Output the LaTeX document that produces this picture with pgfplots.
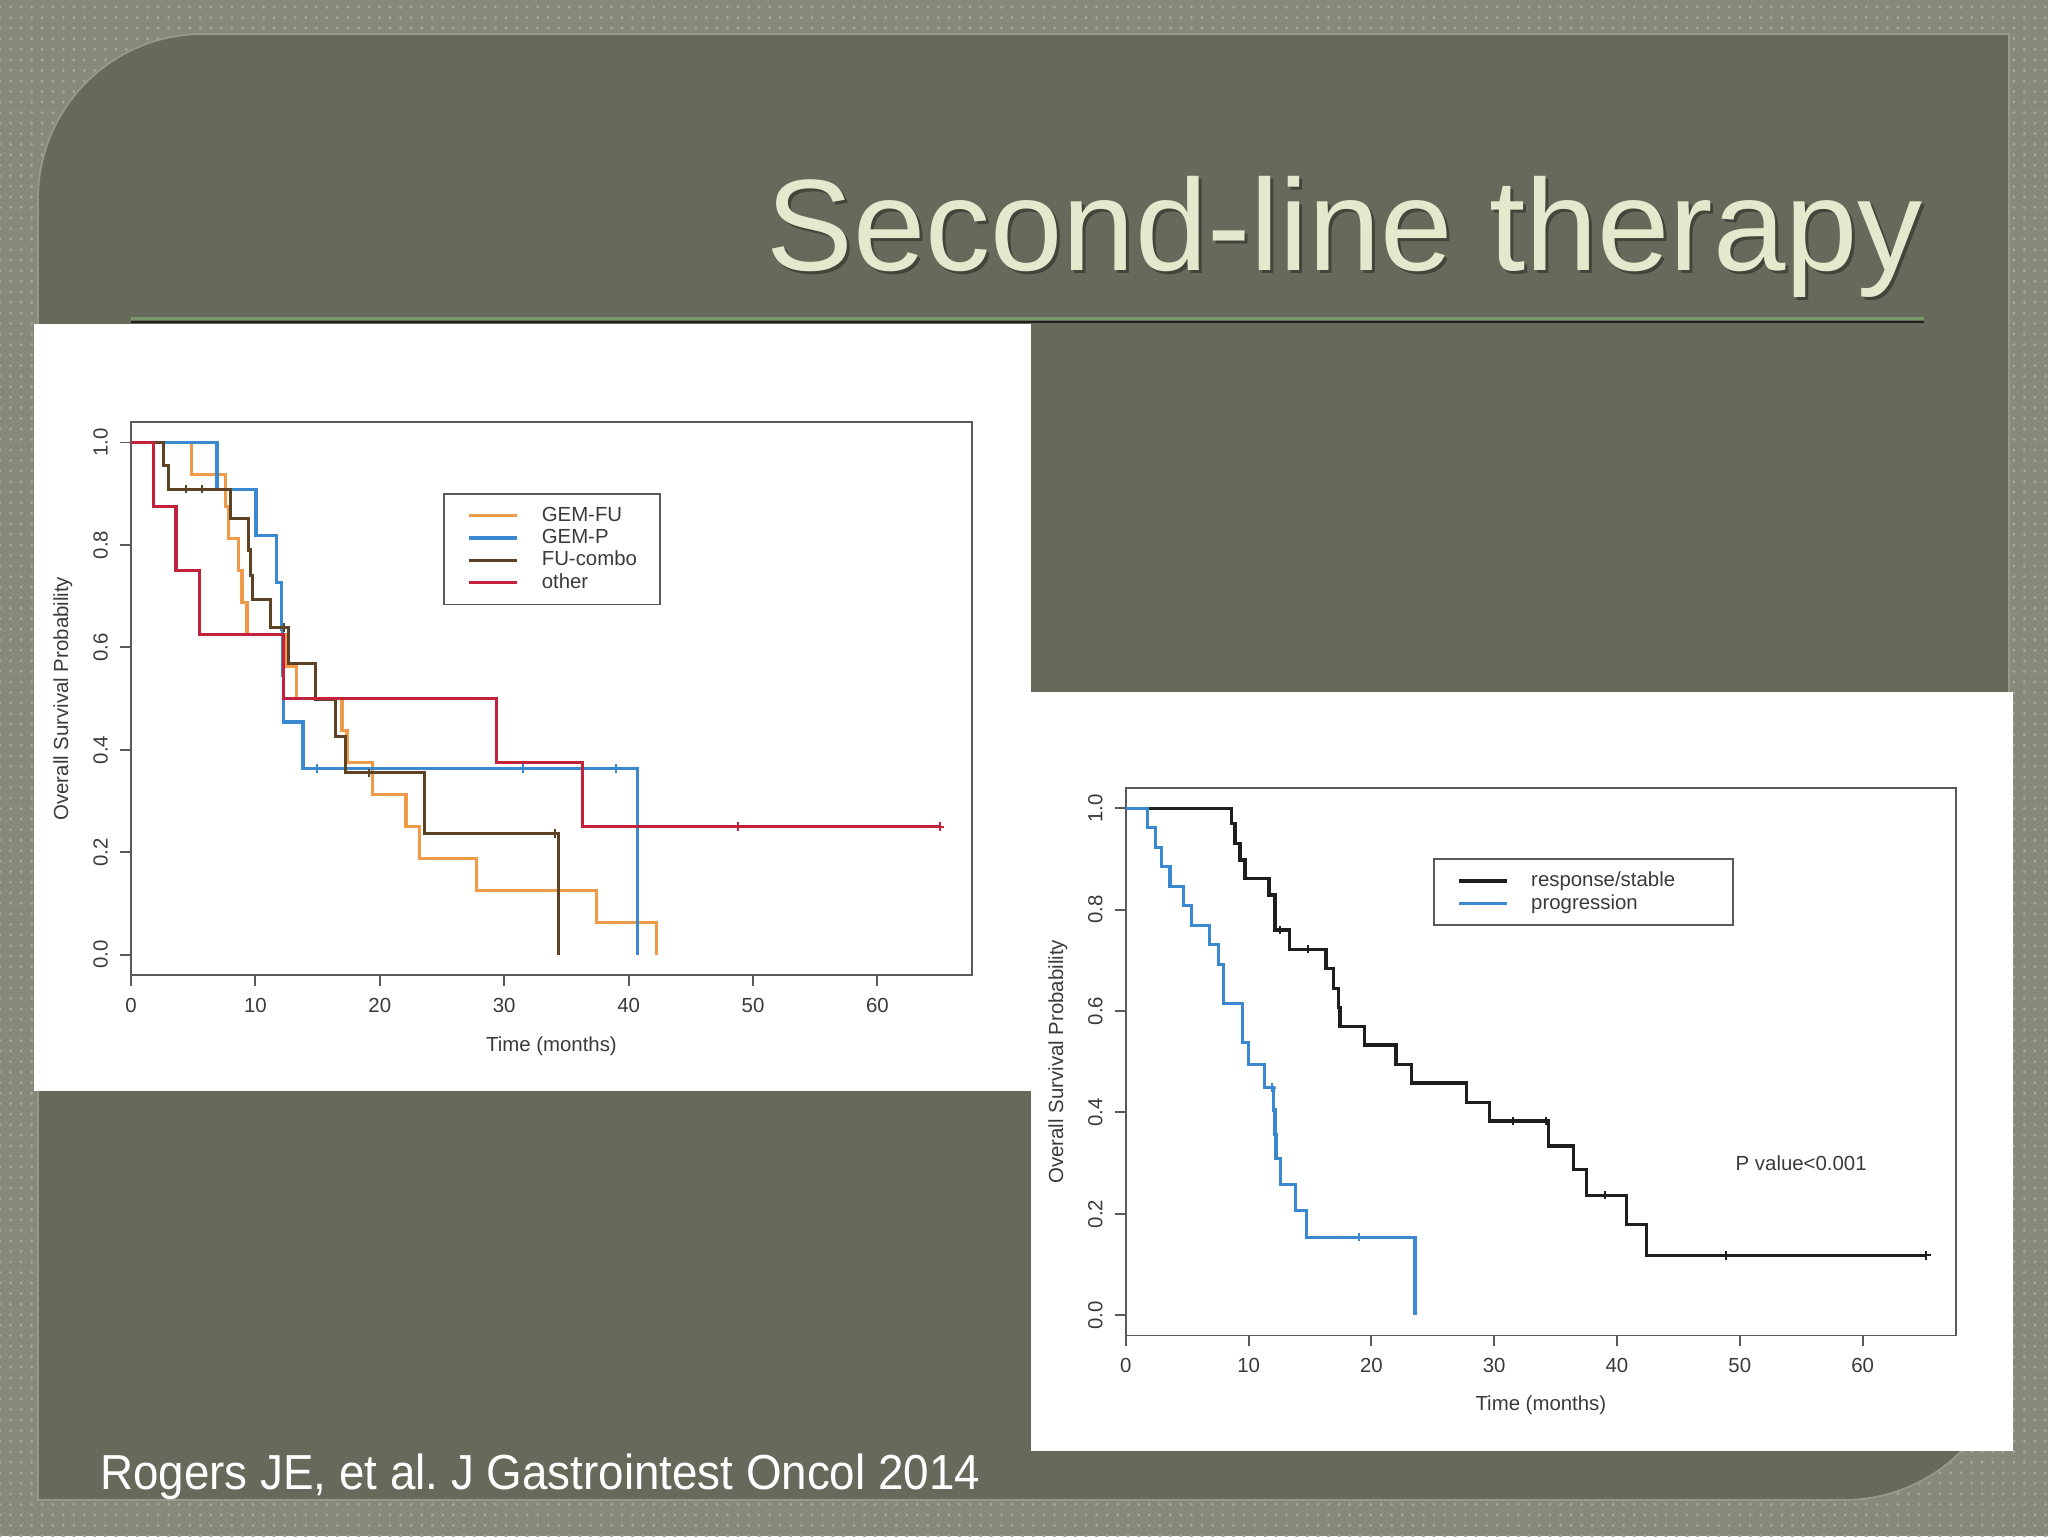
\documentclass[border=0pt]{standalone}
\usepackage{fontspec}
\setmainfont{Liberation Sans}
\usepackage{pgfplots}
\pgfplotsset{compat=1.18}
\usetikzlibrary{patterns}

\definecolor{slideout}{HTML}{878A7A}
\definecolor{slidedots}{HTML}{A2A596}
\definecolor{slidein}{HTML}{676A5B}
\definecolor{sliderim}{HTML}{979A88}
\definecolor{titlecol}{HTML}{E4E8CD}
\definecolor{rulegreen}{HTML}{7A986C}
\definecolor{framegray}{HTML}{5A5A5A}
\definecolor{labelgray}{HTML}{3A3A3A}
\definecolor{kmorange}{HTML}{EE9A48}
\definecolor{kmblue}{HTML}{3A88CF}
\definecolor{kmbrown}{HTML}{5E4226}
\definecolor{kmred}{HTML}{C4213C}
\definecolor{kmblack}{HTML}{1E1E1E}

\pgfplotsset{
  kmaxis/.style={
    scale only axis,
    xmin=0, xmax=67.6, ymin=-0.04, ymax=1.04,
    axis line style={draw=framegray, line width=0.55pt},
    tick align=outside,
    major tick length=1.07mm,
    tick style={draw=framegray, line width=0.55pt},
    xtick={0,10,20,30,40,50,60},
    ytick={0,0.2,0.4,0.6,0.8,1},
    xtick pos=left, ytick pos=left,
    /pgf/number format/assume math mode=true,
    tick label style={font=\fontsize{5.8}{7}\selectfont, text=labelgray},
    yticklabel style={rotate=90, anchor=south, /pgf/number format/.cd, fixed, fixed zerofill, precision=1},
    xticklabel style={anchor=north},
    label style={font=\fontsize{5.8}{7}\selectfont, text=labelgray},
    xlabel={Time (months)},
    ylabel={Overall Survival Probability},
    legend style={anchor=north west, draw=framegray, line width=0.55pt, fill=white,
      inner xsep=2.34mm, inner ysep=1.17mm, row sep=0.18mm, column sep=2.3mm,
      font=\fontsize{5.8}{7}\selectfont, text=labelgray,
      nodes={inner sep=0pt, text height=1.6mm, text depth=0.45mm}},
    legend cell align=left,
    legend image code/.code={\draw[#1] (0mm,0mm) -- (4.8mm,0mm);},
  },
  km/.style={const plot, no marks, line width=0.9pt},
  cens/.style={only marks, mark=+, mark size=1.2pt, forget plot, mark options={line width=0.55pt}},
}

\begin{document}
\begin{tikzpicture}[x=0.1mm, y=0.1mm]
% slide background
\fill[slideout] (0,0) rectangle (2048,1536);
\fill[pattern=dots, pattern color=slidedots] (0,0) rectangle (2048,1536);
\filldraw[fill=slidein, draw=sliderim, line width=0.5pt]
  (38,36) -- (38,1337) arc (180:90:165) -- (2009,1502) -- (2009,201) arc (0:-90:165) -- cycle;
% title
\node[anchor=base east, font=\fontsize{37}{40}\selectfont, text=black, opacity=0.35] at (1938.6,1262.6) {Second-line therapy};
\node[anchor=base east, font=\fontsize{37}{40}\selectfont, text=titlecol] at (1935.6,1265.6) {Second-line therapy};
\draw[rulegreen, line width=0.3mm] (131,1217) -- (1924,1217);
\draw[black!70!slidein, line width=0.2mm] (131,1213.5) -- (1924,1213.5);
% white panels
\fill[white] (34,445.5) rectangle (1030.5,1212);
\fill[white] (1030.5,85.3) rectangle (2013,843.8);
% citation
\node[anchor=base west, font=\fontsize{14}{16}\selectfont, text=white, xscale=0.93] at (88.6,47) {Rogers JE, et al.\ J Gastrointest Oncol 2014};

% left chart
\begin{axis}[kmaxis,
  at={(13.1mm,56.08mm)}, anchor=south west,
  width=84.1mm, height=55.32mm,
  xlabel style={at={(axis description cs:0.5,-0.128)}, anchor=center},
  ylabel style={at={(axis description cs:-0.081,0.5)}, anchor=center},
  legend style={at={(axis description cs:0.3713,0.8722)}},
]
\addplot[km, kmorange] coordinates {
  (0,1) (4.83,0.9375) (7.58,0.875) (7.85,0.8125) (8.65,0.75) (8.92,0.6875)
  (9.32,0.625) (12.4,0.5625) (13.3,0.5) (16.96,0.4375) (17.36,0.375)
  (19.4,0.3125) (22.1,0.25) (23.2,0.1875) (27.74,0.125) (37.44,0.0625) (42.26,0)
};
\addlegendentry{GEM-FU}
\addplot[km, kmblue] coordinates {
  (0,1) (6.91,0.909) (10.05,0.818) (11.68,0.727) (12.08,0.636) (12.2,0.545)
  (12.27,0.4545) (13.82,0.3636) (40.7,0)
};
\addlegendentry{GEM-P}
\addplot[cens, kmblue] coordinates {(14.95,0.3636) (31.5,0.3636) (39.0,0.3636)};
\addplot[km, kmbrown] coordinates {
  (0,1) (2.6,0.955) (3.0,0.909) (7.98,0.852) (9.45,0.79) (9.6,0.74) (9.75,0.693)
  (11.2,0.639) (12.67,0.569) (14.8,0.499) (16.42,0.426) (17.22,0.355)
  (23.57,0.237) (34.36,0)
};
\addlegendentry{FU-combo}
\addplot[cens, kmbrown] coordinates {(4.4,0.909) (5.7,0.909) (12.3,0.639) (19.1,0.355) (34.1,0.237)};
\addplot[km, kmred] coordinates {
  (0,1) (1.83,0.875) (3.62,0.75) (5.49,0.625) (12.27,0.5) (29.4,0.375) (36.3,0.25) (65,0.25)
};
\addlegendentry{other}
\addplot[cens, kmred] coordinates {(48.8,0.25) (65,0.25)};
\end{axis}

% right chart
\begin{axis}[kmaxis,
  at={(112.58mm,20.05mm)}, anchor=south west,
  width=83.01mm, height=54.75mm,
  xlabel style={at={(axis description cs:0.5,-0.128)}, anchor=center},
  ylabel style={at={(axis description cs:-0.082,0.5)}, anchor=center},
  legend style={at={(axis description cs:0.3697,0.8721)}},
]
\addplot[km, kmblack] coordinates {
  (0,1) (8.62,0.970) (8.89,0.931) (9.3,0.898) (9.71,0.862) (11.66,0.829)
  (12.15,0.760) (13.31,0.722) (16.3,0.684) (16.9,0.645) (17.3,0.607)
  (17.44,0.569) (19.42,0.533) (22.0,0.495) (23.28,0.458) (27.72,0.420)
  (29.61,0.383) (34.42,0.334) (36.43,0.287) (37.54,0.237) (40.8,0.179)
  (42.37,0.118) (65.2,0.118)
};
\addlegendentry{response/stable\rule{3.4mm}{0pt}}
\addplot[cens, kmblack] coordinates {
  (12.56,0.76) (14.87,0.722) (31.56,0.383) (34.19,0.383) (39.0,0.237) (48.84,0.118) (65.2,0.118)
};
\addplot[km, kmblue] coordinates {
  (0,1) (1.75,0.962) (2.43,0.923) (2.92,0.885) (3.6,0.846) (4.69,0.808)
  (5.37,0.769) (6.8,0.731) (7.53,0.692) (7.94,0.615) (9.49,0.538) (9.98,0.494)
  (11.28,0.449) (12.01,0.405) (12.15,0.357) (12.23,0.31) (12.61,0.258)
  (13.8,0.206) (14.73,0.154) (23.55,0)
};
\addlegendentry{progression}
\addplot[cens, kmblue] coordinates {(11.88,0.449) (19.02,0.154)};
\node[font=\fontsize{5.8}{7}\selectfont, text=labelgray] at (axis cs:55,0.3) {P value<0.001};
\end{axis}
\end{tikzpicture}
\end{document}
